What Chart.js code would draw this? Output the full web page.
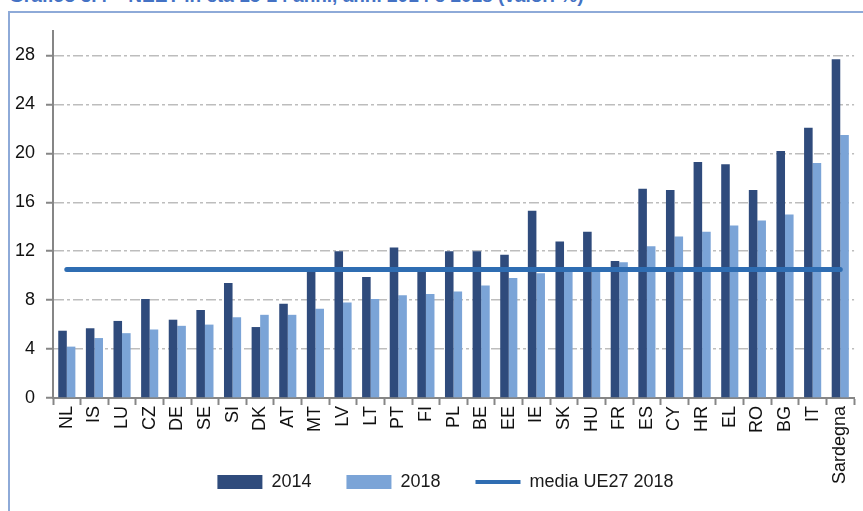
<!DOCTYPE html>
<html>
<head>
<meta charset="utf-8">
<script src="https://cdn.jsdelivr.net/npm/chart.js@4"></script>
<style>
  body { margin: 0; background: #fff; overflow: hidden; }
  #title {
    position: absolute; left: 9px; top: -15px; white-space: nowrap;
    font: bold 19px "Liberation Sans", sans-serif; color: #4472c4;
  }
  #frame {
    position: absolute; left: 8px; top: 11px; width: 900px; height: 600px;
    border-top: 2px solid #8eaad8; border-left: 2px solid #8eaad8;
  }
  #chart { position: absolute; left: 0; top: 0; }
</style>
</head>
<body>
<div id="title">Grafico 3.4 – NEET in età 15-24 anni, anni 2014 e 2018 (valori %)</div>
<div id="frame"></div>
<canvas id="chart" width="863" height="511"></canvas>
<script>
// categories and values (%)
const paesi = ['NL', 'IS', 'LU', 'CZ', 'DE', 'SE', 'SI', 'DK', 'AT', 'MT', 'LV', 'LT', 'PT', 'FI', 'PL',
  'BE', 'EE', 'IE', 'SK', 'HU', 'FR', 'ES', 'CY', 'HR', 'EL', 'RO', 'BG', 'IT', 'Sardegna'];
const neet2014 = [5.5, 5.7, 6.3, 8.1, 6.4, 7.2, 9.4, 5.8, 7.7, 10.4, 12.0, 9.9, 12.3, 10.3, 12.0,
  12.0, 11.7, 15.3, 12.8, 13.6, 11.2, 17.1, 17.0, 19.3, 19.1, 17.0, 20.2, 22.1, 27.7];
const neet2018 = [4.2, 4.9, 5.3, 5.6, 5.9, 6.0, 6.6, 6.8, 6.8, 7.3, 7.8, 8.1, 8.4, 8.5, 8.7,
  9.2, 9.8, 10.2, 10.3, 10.5, 11.1, 12.4, 13.2, 13.6, 14.1, 14.5, 15.0, 19.2, 21.5];
const mediaUE27 = 10.5;
const yTicks = [0, 4, 8, 12, 16, 20, 24, 28];

const axisGrey = '#868686';

// tick labels are clipped to the axis box, so widen the boxes after layout
// and nudge the legend to where it sits in the original
const fixBoxes = {
  id: 'fixBoxes',
  afterLayout(chart) {
    chart.scales.x.bottom = chart.height;
    chart.scales.y.left = 0;
    const lg = chart.legend;
    if (lg) {
      lg.left += 14;
      lg.right += 14;
      lg.top -= 2;
      lg.bottom -= 2;
    }
  }
};

document.addEventListener('DOMContentLoaded', function () {
  const ctx = document.getElementById('chart').getContext('2d');

  const data = {
    labels: paesi,
    datasets: [
      {
        type: 'bar',
        label: '2014',
        data: neet2014,
        backgroundColor: '#2f4b7c',
        pointStyle: 'rect',
        order: 1
      },
      {
        type: 'bar',
        label: '2018',
        data: neet2018,
        backgroundColor: '#7ba4d7',
        pointStyle: 'rect',
        order: 1
      },
      {
        type: 'line',
        label: 'media UE27 2018',
        data: paesi.map(() => mediaUE27),
        borderColor: '#2f6db2',
        backgroundColor: '#2f6db2',
        borderWidth: 5,
        borderCapStyle: 'round',
        pointRadius: 0,
        pointStyle: 'line',
        fill: false,
        order: 0
      }
    ]
  };

  const config = {
    type: 'bar',
    data: data,
    plugins: [fixBoxes],
    options: {
      responsive: false,
      animation: false,
      layout: { padding: { left: 8, right: 8, top: 31, bottom: 8 } },
      datasets: {
        bar: { categoryPercentage: 0.62, barPercentage: 1.0 }
      },
      plugins: {
        tooltip: { enabled: false },
        legend: {
          position: 'bottom',
          labels: {
            usePointStyle: true,
            pointStyleWidth: 45,
            boxHeight: 14,
            padding: 35,
            color: '#1a1a1a',
            font: { family: 'Liberation Sans', size: 18 },
            sort: (a, b) => a.datasetIndex - b.datasetIndex,
            generateLabels: function (chart) {
              const items = Chart.defaults.plugins.legend.labels.generateLabels(chart);
              items.forEach(it => {
                if (it.datasetIndex === 2) {
                  it.pointStyle = 'line';
                  it.lineWidth = 4;
                  it.strokeStyle = '#2f6db2';
                } else {
                  it.pointStyle = 'rect';
                  it.lineWidth = 0;
                }
              });
              return items;
            }
          }
        }
      },
      scales: {
        x: {
          offset: true,
          grid: {
            display: true,
            offset: true,
            drawOnChartArea: false,
            drawTicks: true,
            tickLength: 7,
            tickColor: axisGrey,
            tickWidth: 2
          },
          border: { display: true, color: axisGrey, width: 2 },
          ticks: {
            autoSkip: false,
            minRotation: 90,
            maxRotation: 90,
            padding: 1,
            color: '#111',
            font: { family: 'Liberation Sans', size: 18 }
          },
          afterFit: function (scale) { scale.height = 42; }
        },
        y: {
          min: 0,
          max: 30,
          grid: {
            color: '#bdbdbd',
            lineWidth: 1.5,
            drawTicks: true,
            tickLength: 7,
            tickColor: axisGrey,
            tickWidth: 2
          },
          border: { display: true, color: axisGrey, width: 2, dash: [10, 3, 3, 3] },
          ticks: {
            stepSize: 4,
            includeBounds: false,
            padding: 11,
            color: '#111',
            font: { family: 'Liberation Sans', size: 18 }
          },
          afterBuildTicks: function (scale) {
            scale.ticks = yTicks.map(v => ({ value: v }));
          },
          afterFit: function (scale) { scale.width = 45; }
        }
      }
    }
  };

  new Chart(ctx, config);
});
</script>
</body>
</html>
